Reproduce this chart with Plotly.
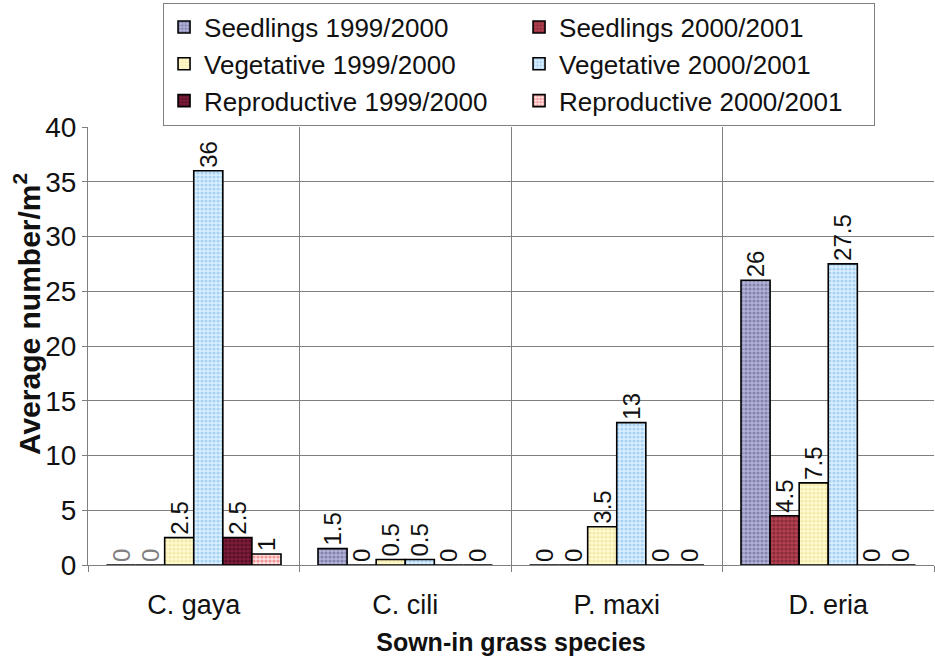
import plotly.graph_objects as go

categories = ["C. gaya", "C. cili", "P. maxi", "D. eria"]
series_names = [
    "Seedlings 1999/2000", "Seedlings 2000/2001",
    "Vegetative 1999/2000", "Vegetative 2000/2001",
    "Reproductive 1999/2000", "Reproductive 2000/2001",
]
seedlings_9900 = [0, 1.5, 0, 26]
seedlings_0001 = [0, 0, 0, 4.5]
vegetative_9900 = [2.5, 0.5, 3.5, 7.5]
vegetative_0001 = [36, 0.5, 13, 27.5]
reproductive_9900 = [2.5, 0, 0, 0]
reproductive_0001 = [1, 0, 0, 0]
series_values = [seedlings_9900, seedlings_0001, vegetative_9900,
                 vegetative_0001, reproductive_9900, reproductive_0001]
y_ticks = [0, 5, 10, 15, 20, 25, 30, 35, 40]

# (background, foreground) of the dotted fill pattern
styles = [
    ("#b2b2d6", "#54548c"),
    ("#b4404f", "#5c1626"),
    ("#fffad0", "#ecd884"),
    ("#dcefff", "#74b6e6"),
    ("#7e1c3a", "#360414"),
    ("#ffe2e2", "#e04a4a"),
]

REG = "Liberation Sans, Arial, sans-serif"

def fmt(v):
    return str(int(v)) if float(v).is_integer() else str(v)

fig = go.Figure()
for name, vals, (bg, fg) in zip(series_names, series_values, styles):
    colors = ["#808080" if (v == 0 and c == "C. gaya") else "#111111"
              for v, c in zip(vals, categories)]
    fig.add_trace(go.Bar(
        name=name, x=categories, y=vals,
        text=[fmt(v) for v in vals],
        textposition="outside", textangle=-90, constraintext="none",
        cliponaxis=False,
        textfont=dict(family=REG, size=24, color=colors),
        marker=dict(color=bg, line=dict(color="#000000", width=1.6),
                    pattern=dict(shape=".", fgcolor=fg, bgcolor=bg,
                                 size=4, solidity=0.5)),
    ))

fig.update_layout(
    width=935, height=659,
    margin=dict(l=88, r=1, t=127, b=94),
    paper_bgcolor="white", plot_bgcolor="white",
    barmode="group", bargap=0.175, bargroupgap=0,
    font=dict(family=REG, size=26, color="#111111"),
    showlegend=True,
    legend=dict(
        orientation="h", x=0.0887, y=1.284, xanchor="left", yanchor="top",
        font=dict(family=REG, size=26, color="#111111"),
        bgcolor="white", bordercolor="#808080", borderwidth=1,
        entrywidth=310, entrywidthmode="pixels",
        traceorder="normal",
    ),
    annotations=[dict(
        text="<b>Average number/m<sup>2</sup></b>", textangle=-90,
        xref="paper", yref="paper", x=-0.072, y=0.573,
        xanchor="center", yanchor="middle", showarrow=False,
        font=dict(family=REG, size=30, color="#111111"),
    )],
)
fig.update_xaxes(
    type="category", tickson="boundaries", showgrid=True,
    gridcolor="#7f7f7f", gridwidth=1,
    showline=True, linecolor="#7f7f7f", linewidth=1,
    ticks="outside", ticklen=6, tickcolor="#7f7f7f",
    ticklabelstandoff=16,
    tickfont=dict(family=REG, size=27, color="#111111"),
    title=dict(text="<b>Sown-in grass species</b>", standoff=14,
               font=dict(family=REG, size=25, color="#111111")),
)
fig.update_yaxes(
    range=[0, 40], tickvals=y_ticks, showgrid=True,
    gridcolor="#7f7f7f", gridwidth=1, zeroline=False,
    showline=True, linecolor="#7f7f7f", linewidth=1,
    ticks="outside", ticklen=5, tickcolor="#7f7f7f",
    tickfont=dict(family=REG, size=28, color="#111111"),
)

fig.write_html("out.html")
